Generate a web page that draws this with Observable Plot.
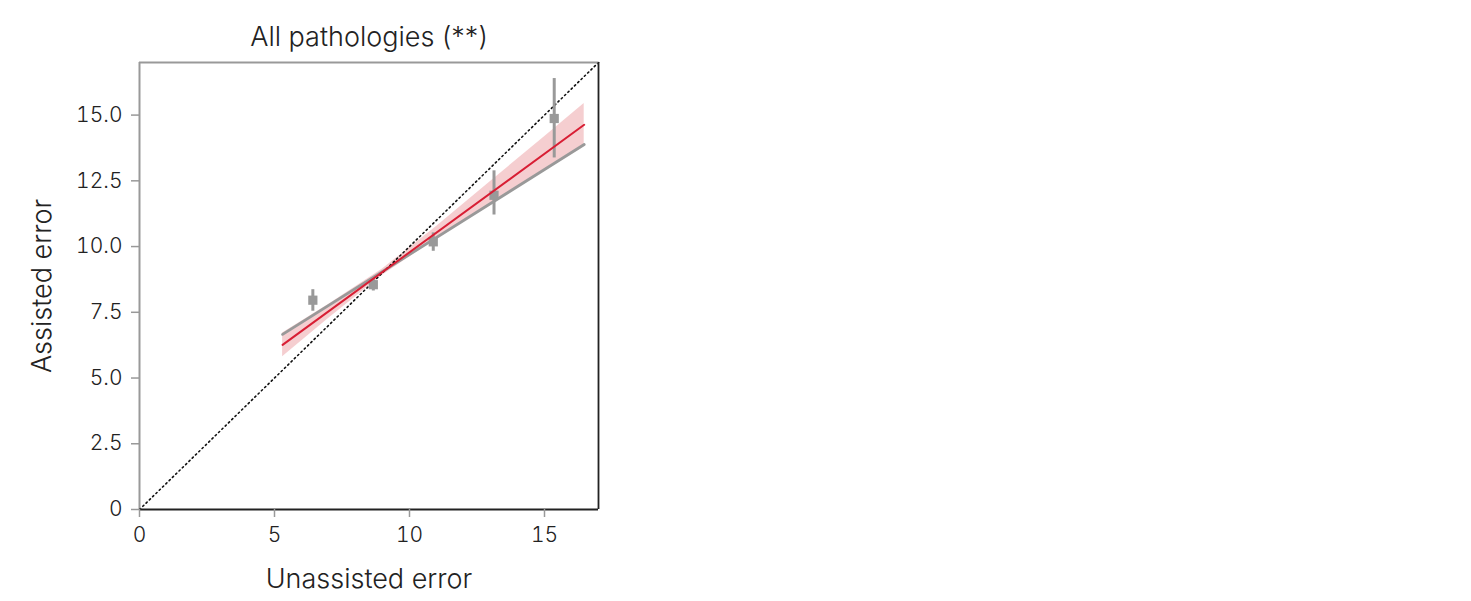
<!DOCTYPE html>
<html>
<head>
<meta charset="utf-8">
<script src="https://cdn.jsdelivr.net/npm/d3@7"></script>
<script src="https://cdn.jsdelivr.net/npm/@observablehq/plot@0.6"></script>
<style>
  body { margin: 0; background: #fff; font-family: Inter, "Open Sans", sans-serif; }
  #chart { position: absolute; left: 0; top: 0; }
</style>
</head>
<body>
<div id="chart"></div>
<script>
// Binned points: unassisted error (x), assisted error (y) and error-bar extents
const unassisted = [6.42, 8.66, 10.88, 13.13, 15.36];
const assisted   = [7.96, 8.55, 10.18, 11.95, 14.87];
const errLow     = [7.54, 8.31, 9.82, 11.20, 13.37];
const errHigh    = [8.36, 8.78, 10.52, 12.88, 16.39];

// Fitted (red) line endpoints and its confidence band
const fitX      = [5.30, 16.47];
const fitY      = [6.26, 14.63];
const bandX     = [5.30, 7.0, 9.0, 11.0, 13.0, 15.0, 16.47];
const bandLow   = [5.81, 7.26, 8.91, 10.30, 11.59, 12.86, 13.80];
const bandHigh  = [6.71, 7.80, 9.15, 10.76, 12.47, 14.18, 15.44];

// Reference (gray) line endpoints
const refX = [5.30, 16.47];
const refY = [6.66, 13.88];

// Identity line and axes
const identity = [0, 17];
const xTicks = [0, 5, 10, 15];
const yTicks = [0, 2.5, 5, 7.5, 10, 12.5, 15];
const title = "All pathologies (**)";
const xLabel = "Unassisted error";
const yLabel = "Assisted error";

const points = unassisted.map((x, i) => ({x, y: assisted[i], lo: errLow[i], hi: errHigh[i]}));
const fit = fitX.map((x, i) => ({x, y: fitY[i]}));
const band = bandX.map((x, i) => ({x, lo: bandLow[i], hi: bandHigh[i]}));
const ref = refX.map((x, i) => ({x, y: refY[i]}));
const diag = identity.map(v => ({x: v, y: v}));

const chart = Plot.plot({
  width: 620,
  height: 601,
  marginLeft: 139,
  marginRight: 22,
  marginTop: 62,
  marginBottom: 92,
  style: {fontFamily: "Inter, 'Open Sans', sans-serif", fontSize: "20px", color: "#222", background: "#fff"},
  x: {domain: [0, 17]},
  y: {domain: [0, 17]},
  marks: [
    Plot.areaY(band, {x: "x", y1: "lo", y2: "hi", fill: "#f3c6c8", fillOpacity: 0.85}),
    Plot.line(ref, {x: "x", y: "y", stroke: "#999", strokeWidth: 2.8}),
    Plot.line(diag, {x: "x", y: "y", stroke: "#111", strokeWidth: 1.6, strokeDasharray: "1.4,3.2"}),
    Plot.ruleX(points, {x: "x", y1: "lo", y2: "hi", stroke: "#999", strokeWidth: 3}),
    Plot.dot(points, {x: "x", y: "y", symbol: "square", r: 5.2, fill: "#999", stroke: "none"}),
    Plot.line(fit, {x: "x", y: "y", stroke: "#d81e34", strokeWidth: 2}),
    // frame
    Plot.ruleX([0], {stroke: "#999", strokeWidth: 2}),
    Plot.ruleY([17], {stroke: "#999", strokeWidth: 2}),
    Plot.ruleX([17], {stroke: "#222", strokeWidth: 1.8}),
    Plot.ruleY([0], {stroke: "#222", strokeWidth: 1.8}),
    Plot.axisX({ticks: xTicks, tickSize: 8, tickPadding: 10, stroke: "#999", strokeWidth: 1.5, label: null, fontSize: 21, fontWeight: 300, fill: "#222"}),
    Plot.axisY({ticks: yTicks, tickSize: 8, tickPadding: 9, stroke: "#999", strokeWidth: 1.5, label: null, fontSize: 21, fontWeight: 300, fill: "#222",
      tickFormat: d => d === 0 ? "0" : d3.format(".1f")(d)}),
    Plot.text([title], {frameAnchor: "top", dy: -36, fontSize: 27, fontWeight: 300, fill: "#222"}),
    Plot.text([xLabel], {frameAnchor: "bottom", dy: 78, fontSize: 27, fontWeight: 300, fill: "#222"}),
    Plot.text([yLabel], {frameAnchor: "left", textAnchor: "middle", dx: -97, rotate: -90, fontSize: 27, fontWeight: 300, fill: "#222"})
  ]
});
document.getElementById("chart").append(chart);
</script>
</body>
</html>
